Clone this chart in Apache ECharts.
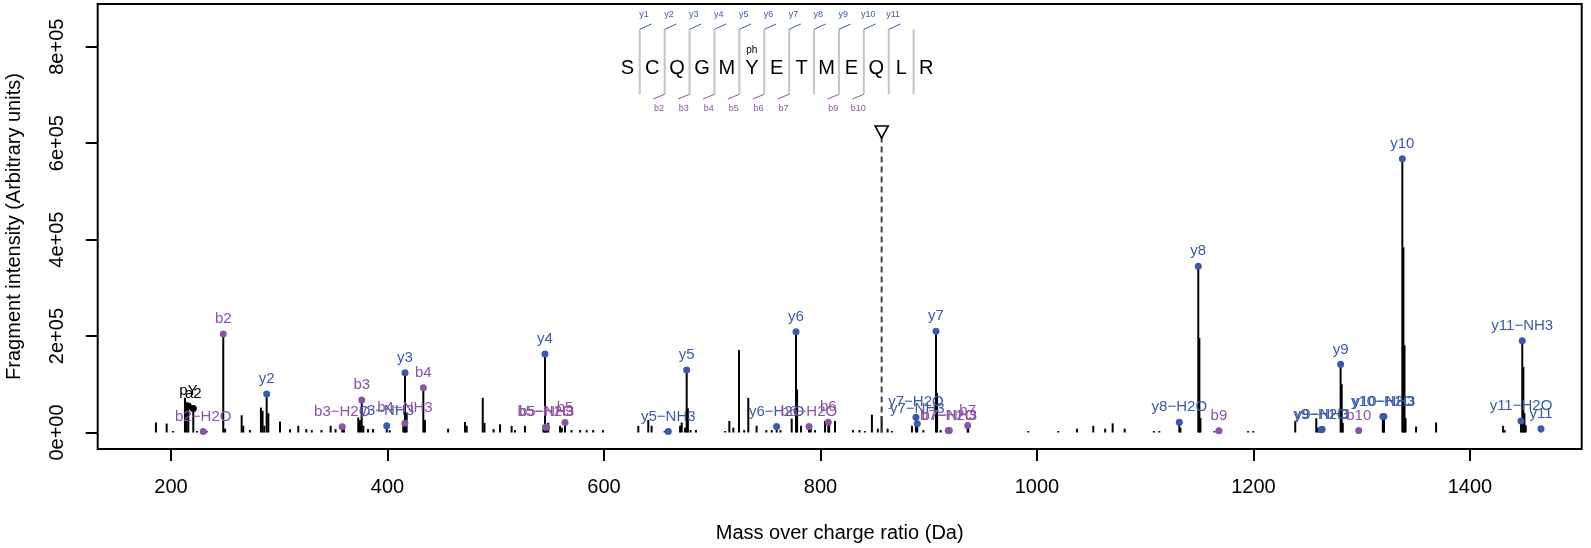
<!DOCTYPE html>
<html><head><meta charset="utf-8">
<script src="https://cdn.jsdelivr.net/npm/echarts@6/dist/echarts.min.js"></script>
<style>html,body{margin:0;padding:0;background:#fff}#c{width:1591px;height:548px}</style>
</head><body><div id="c"></div>
<script>
// ---- unannotated peaks (m/z, intensity) ----
const peakMz = [186.1,196,202,212.9,214.5,224,233,250,265.3,266.8,272.9,283.1,284.6,286.2,289.9,300.7,310,317.6,325,330,339,347.5,352,359.8,373,374.6,377.7,382,386.6,402,414.6,417.7,434.6,456,471.6,473.2,488,489.6,498,504,514.7,517.8,527,544,548.5,559.4,561,570,578,584,590,599,631.7,640.9,644,656,670.3,671.8,674.9,677.5,680,685,712,715.8,719.5,724.7,729.5,733.3,741,750,755,763,773.4,778.4,782,791,795,804.2,808,813.4,830,836,841,847.5,853,856.5,862,866,884.5,895,907.7,911,936.5,992,1019.7,1037,1052,1063,1069.9,1081,1108,1113,1132.5,1150,1151,1164,1195,1199.8,1238.6,1258,1259.5,1264,1281.5,1282.5,1320.5,1338.5,1339.5,1340.5,1350.2,1368.7,1430.6,1432,1449.3,1450.3,1451.5];
const peakInt = [20700,18600,3000,72000,63000,3000,3000,8000,35800,14000,5000,51600,45000,14000,40000,22700,7000,13800,7000,5000,5000,13800,7000,10000,31000,26000,14000,7000,7000,5000,14000,40000,26000,8000,22000,14000,72000,20000,7000,17000,13800,5000,13800,14000,20000,13800,10000,5000,5000,5000,5000,5000,13800,26000,14000,3000,14000,20700,10000,50000,5000,5000,3000,24000,10000,170900,5000,72000,14000,5000,5000,5000,29000,89000,14000,10000,5000,24000,20000,24000,5000,5000,3000,37000,8000,34000,8000,3000,14000,5000,82000,5000,8000,3000,3000,8000,13800,8000,19000,8000,3000,3000,10000,196000,30000,3000,3000,3000,22700,29600,10000,5000,100000,20000,30000,384000,181000,30000,12400,20700,13800,5000,136000,40000,15000];

// ---- annotated fragment ions ----
const annLabel = ['pY','a2','b2\u2212H2O','b2','y2','b3\u2212H2O','b3','y3\u2212NH3','b4\u2212NH3','y3','b4','y4','b5\u2212H2O','b5\u2212NH3','b5','y5\u2212NH3','y5','y6\u2212H2O','y6','b6\u2212H2O','b6','y7\u2212H2O','y7\u2212NH3','y7','b7\u2212H2O','b7\u2212NH3','b7','y8\u2212H2O','y8','b9','y9\u2212H2O','y9\u2212NH3','y9','b10','y10\u2212H2O','y10\u2212NH3','y10','y11\u2212H2O','y11\u2212NH3','y11'];
const annMz = [216.0,220.6,229.8,248.3,288.4,358.2,376.2,399.3,416.1,416.2,433.1,545.5,546.0,547.0,564.0,659.4,676.4,759.5,777.4,789.4,807.2,888.2,889.4,906.7,918.0,919.0,936.0,1131.5,1149.0,1168.1,1262.4,1263.4,1280.5,1297.2,1319.5,1320.5,1337.5,1447.1,1448.3,1465.6];
const annInt = [55000,50000,2000,204000,80000,12000,67600,13800,19400,124000,93000,162600,11000,11000,20700,2000,129500,12400,208700,12400,21500,31800,18000,210000,4000,4000,14500,21500,344600,3500,5600,6500,141300,4000,33000,33000,567600,24000,190000,7600];

// ---- precursor ----
const precursorMz = 856.5;
const precursorInt = 623000;

// ---- peptide sequence panel ----
const sequence = ['S','C','Q','G','M','Y','E','T','M','E','Q','L','R'];
const yIonMarks = ['y1','y2','y3','y4','y5','y6','y7','y8','y9','y10','y11',null];
const bIonMarks = [null,'b2','b3','b4','b5','b6','b7',null,'b9','b10',null,null];
const modification = {index: 5, text: 'ph'};

// ---- axes ----
const xTicks = [200,400,600,800,1000,1200,1400];
const xTickLabels = ['200','400','600','800','1000','1200','1400'];
const yTicks = [0,200000,400000,600000,800000];
const yTickLabels = ['0e+00','2e+05','4e+05','6e+05','8e+05'];

const BLUE = '#3A5BA8', PURPLE = '#8D52A6', BLACK = '#000';
const FONT = 'Liberation Sans, Arial, Helvetica, sans-serif';
function ionColor(l){ return l[0]==='y' ? BLUE : (l[0]==='b' ? PURPLE : BLACK); }

const sticks = peakMz.map((m,i)=>[m,peakInt[i]]).concat(annMz.map((m,i)=>[m,annInt[i]]));

// sequence graphic (layout only)
const seqX0 = 627.3, seqDx = 24.9, seqY = 68.3;
const graphics = [];
sequence.forEach((a,i)=>{
  graphics.push({type:'text', x: seqX0+i*seqDx, y: seqY, style:{text:a, fill:'#000', font:'20px '+FONT, textAlign:'center', textVerticalAlign:'middle'}});
});
for (let k=0;k<sequence.length-1;k++){
  const bx = seqX0 + (k+0.5)*seqDx;
  graphics.push({type:'line', shape:{x1:bx,y1:29.3,x2:bx,y2:94.3}, style:{stroke:'#c4c4c4', lineWidth:2}});
  if (yIonMarks[k]){
    graphics.push({type:'line', shape:{x1:bx,y1:29.3,x2:bx+11.7,y2:24}, style:{stroke:BLUE, lineWidth:1}});
    graphics.push({type:'text', x:bx+4.3, y:15, style:{text:yIonMarks[k], fill:BLUE, font:'9px '+FONT, textAlign:'center', textVerticalAlign:'middle'}});
  }
  if (bIonMarks[k]){
    graphics.push({type:'line', shape:{x1:bx,y1:94.3,x2:bx-11.5,y2:99}, style:{stroke:PURPLE, lineWidth:1}});
    graphics.push({type:'text', x:bx-5.7, y:108.7, style:{text:bIonMarks[k], fill:PURPLE, font:'9px '+FONT, textAlign:'center', textVerticalAlign:'middle'}});
  }
}
graphics.push({type:'text', x: seqX0+modification.index*seqDx, y:50, style:{text:modification.text, fill:'#000', font:'10px '+FONT, textAlign:'center', textVerticalAlign:'middle'}});

const chart = echarts.init(document.getElementById('c'), null, {renderer:'canvas'});
chart.setOption({
  animation:false,
  backgroundColor:'#fff',
  textStyle:{fontFamily:FONT},
  grid:{left:97.7, right:9.3, top:4, bottom:99, show:true, borderColor:'#000', borderWidth:2, backgroundColor:'transparent',
        containLabel:false, outerBoundsMode:'none'},
  xAxis:{type:'value', min:132.3, max:1503.2,
    splitLine:{show:false}, axisLine:{show:false, onZero:false},
    axisTick:{show:true, length:12, lineStyle:{color:'#000', width:2}, customValues:xTicks},
    axisLabel:{customValues:xTicks, fontSize:20, color:'#000', margin:28, fontFamily:FONT,
      formatter:v=>xTickLabels[xTicks.indexOf(v)]},
    name:'Mass over charge ratio (Da)', nameLocation:'middle', nameGap:74,
    nameTextStyle:{fontSize:20, color:'#000', fontFamily:FONT}},
  yAxis:{type:'value', min:-34200, max:888500,
    splitLine:{show:false}, axisLine:{show:false, onZero:false},
    axisTick:{show:true, length:12, lineStyle:{color:'#000', width:2}, customValues:yTicks},
    axisLabel:{customValues:yTicks, rotate:90, fontSize:20, color:'#000', margin:30, fontFamily:FONT,
      formatter:v=>yTickLabels[yTicks.indexOf(v)]},
    name:'Fragment intensity (Arbitrary units)', nameLocation:'middle', nameGap:73, nameRotate:90,
    nameTextStyle:{fontSize:20, color:'#000', fontFamily:FONT}},
  graphic: graphics,
  series:[
    {type:'custom', data:sticks, z:2, silent:true,
     renderItem:(params, api)=>{
       const p0 = api.coord([api.value(0),0]);
       const p1 = api.coord([api.value(0),api.value(1)]);
       return {type:'line', shape:{x1:p0[0],y1:p0[1],x2:p1[0],y2:p1[1]}, style:{stroke:'#000', lineWidth:2}};
     }},
    {type:'line', data:[[precursorMz,0],[precursorMz,precursorInt-12000]], symbol:'none', z:3,
     lineStyle:{color:'#444', width:2, type:[6,4]}},
    {type:'scatter', data:[[precursorMz,precursorInt]], symbol:'triangle', symbolRotate:180, symbolSize:[13,12], z:4,
     itemStyle:{color:'rgba(0,0,0,0)', borderColor:'#000', borderWidth:1.6, opacity:1}},
    {type:'scatter', z:5, symbolSize:7,
     itemStyle:{opacity:1},
     data: annMz.map((m,i)=>({name:annLabel[i], value:[m,annInt[i]], itemStyle:{color:ionColor(annLabel[i]), opacity:1},
        label:{color:ionColor(annLabel[i])}})),
     label:{show:true, position:'top', distance:4, formatter:p=>p.name, fontSize:15, fontFamily:FONT}}
  ]
});
</script></body></html>
